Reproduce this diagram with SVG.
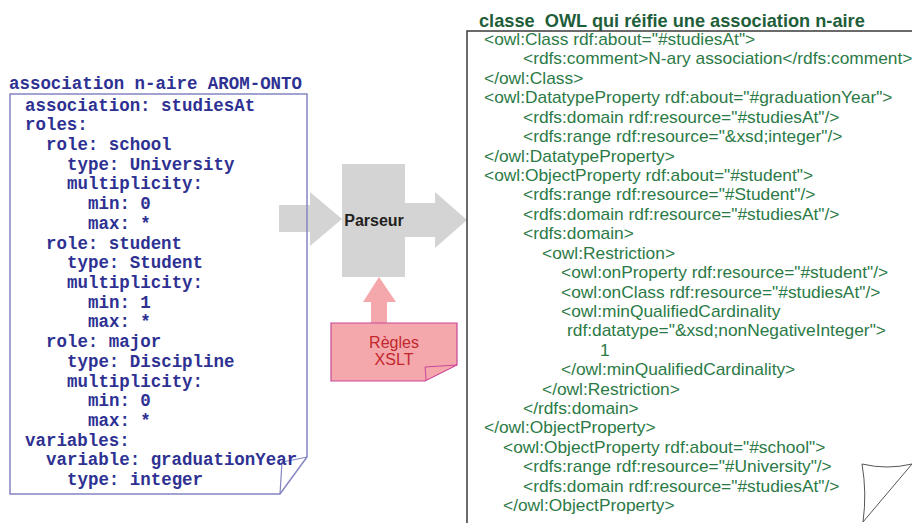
<svg xmlns="http://www.w3.org/2000/svg" width="912" height="523" viewBox="0 0 912 523">
<style>
.mono{font-family:"Liberation Mono","Courier New",monospace;font-weight:bold;font-size:17.45px;fill:#2e3192}
.owl{font-family:"Liberation Sans",Arial,sans-serif;font-size:17.35px;fill:#2b7a46}
.owlt{font-family:"Liberation Sans",Arial,sans-serif;font-size:18.2px;font-weight:bold;fill:#1f5e3a}
.gray{fill:#d4d4d4}
.pink{fill:#f5a8ab}
</style>
<rect width="912" height="523" fill="#ffffff"/>
<g id="connectors">
  <polygon class="gray" points="279,205 310,205 310,192 342,219 310,246 310,232 279,232"/>
  <polygon class="gray" points="404,203 435,203 435,192 467,220 435,248 435,237 404,237"/>
  <polygon class="pink" points="371,323 371,302 363,302 379,277 396,302 387,302 387,323"/>
</g>
<g id="arom-onto">
  <text class="mono" x="9" y="89">association n-aire AROM-ONTO</text>
  <path d="M10,94 H307 V457 L280,494 H10 Z" fill="none" stroke="#8585c2" stroke-width="1.5"/>
  <path d="M307,457 Q294,460 282,462 Q281,478 280,494" fill="none" stroke="#8585c2" stroke-width="1.2"/>
  <text class="mono" x="25" y="110.5">association: studiesAt</text>
  <text class="mono" x="25" y="130.2">roles:</text>
  <text class="mono" x="46" y="149.9">role: school</text>
  <text class="mono" x="67" y="169.7">type: University</text>
  <text class="mono" x="67" y="189.4">multiplicity:</text>
  <text class="mono" x="88" y="209.1">min: 0</text>
  <text class="mono" x="88" y="228.8">max: *</text>
  <text class="mono" x="46" y="248.5">role: student</text>
  <text class="mono" x="67" y="268.3">type: Student</text>
  <text class="mono" x="67" y="288">multiplicity:</text>
  <text class="mono" x="88" y="307.7">min: 1</text>
  <text class="mono" x="88" y="327.4">max: *</text>
  <text class="mono" x="46" y="347.1">role: major</text>
  <text class="mono" x="67" y="366.9">type: Discipline</text>
  <text class="mono" x="67" y="386.6">multiplicity:</text>
  <text class="mono" x="88" y="406.3">min: 0</text>
  <text class="mono" x="88" y="426">max: *</text>
  <text class="mono" x="25" y="445.7">variables:</text>
  <text class="mono" x="46" y="465.4">variable: graduationYear</text>
  <text class="mono" x="67" y="485.2">type: integer</text>
</g>
<g id="parseur">
  <rect class="gray" x="342" y="164" width="63" height="113"/>
  <text x="374" y="225.5" text-anchor="middle" font-family="Liberation Sans, Arial, sans-serif" font-weight="bold" font-size="16" fill="#231f20">Parseur</text>
</g>
<g id="xslt">
  <path d="M331,323 H457 V365 L425,381 H331 Z" fill="#f5a8ab" stroke="#c9469c" stroke-width="1.2"/>
  <path d="M457,365 Q441,366 425,367 Q426,374 426,381" fill="none" stroke="#c9469c" stroke-width="1"/>
  <text x="394" y="348" text-anchor="middle" font-family="Liberation Sans, Arial, sans-serif" font-size="16" fill="#c1272d">Règles</text>
  <text x="394" y="365" text-anchor="middle" font-family="Liberation Sans, Arial, sans-serif" font-size="16" fill="#c1272d">XSLT</text>
</g>
<g id="owl">
  <text class="owlt" x="479" y="26.5" xml:space="preserve">classe  OWL qui réifie une association n-aire</text>
  <path d="M467,523 V31 H912" fill="none" stroke="#3a3a3a" stroke-width="1.5"/>
  <path d="M862,464 Q887,470 912,464 L863,522 Q867,493 862,464 Z" fill="#ffffff" stroke="#555555" stroke-width="1"/>
  <text class="owl" x="484" y="45">&lt;owl:Class rdf:about="#studiesAt"&gt;</text>
  <text class="owl" x="523" y="64.4">&lt;rdfs:comment&gt;N-ary association&lt;/rdfs:comment&gt;</text>
  <text class="owl" x="484" y="83.8">&lt;/owl:Class&gt;</text>
  <text class="owl" x="484" y="103.3">&lt;owl:DatatypeProperty rdf:about="#graduationYear"&gt;</text>
  <text class="owl" x="523" y="122.7">&lt;rdfs:domain rdf:resource="#studiesAt"/&gt;</text>
  <text class="owl" x="523" y="142.1">&lt;rdfs:range rdf:resource="&amp;xsd;integer"/&gt;</text>
  <text class="owl" x="484" y="161.5">&lt;/owl:DatatypeProperty&gt;</text>
  <text class="owl" x="484" y="180.9">&lt;owl:ObjectProperty rdf:about="#student"&gt;</text>
  <text class="owl" x="523" y="200.4">&lt;rdfs:range rdf:resource="#Student"/&gt;</text>
  <text class="owl" x="523" y="219.8">&lt;rdfs:domain rdf:resource="#studiesAt"/&gt;</text>
  <text class="owl" x="523" y="239.2">&lt;rdfs:domain&gt;</text>
  <text class="owl" x="542" y="258.6">&lt;owl:Restriction&gt;</text>
  <text class="owl" x="561" y="278">&lt;owl:onProperty rdf:resource="#student"/&gt;</text>
  <text class="owl" x="561" y="297.5">&lt;owl:onClass rdf:resource="#studiesAt"/&gt;</text>
  <text class="owl" x="561" y="316.9">&lt;owl:minQualifiedCardinality</text>
  <text class="owl" x="567" y="336.3">rdf:datatype="&amp;xsd;nonNegativeInteger"&gt;</text>
  <text class="owl" x="600" y="355.7">1</text>
  <text class="owl" x="561" y="375.1">&lt;/owl:minQualifiedCardinality&gt;</text>
  <text class="owl" x="542" y="394.6">&lt;/owl:Restriction&gt;</text>
  <text class="owl" x="523" y="414">&lt;/rdfs:domain&gt;</text>
  <text class="owl" x="484" y="433.4">&lt;/owl:ObjectProperty&gt;</text>
  <text class="owl" x="503" y="452.8">&lt;owl:ObjectProperty rdf:about="#school"&gt;</text>
  <text class="owl" x="523" y="472.2">&lt;rdfs:range rdf:resource="#University"/&gt;</text>
  <text class="owl" x="523" y="491.7">&lt;rdfs:domain rdf:resource="#studiesAt"/&gt;</text>
  <text class="owl" x="503" y="511.1">&lt;/owl:ObjectProperty&gt;</text>
</g>
</svg>
